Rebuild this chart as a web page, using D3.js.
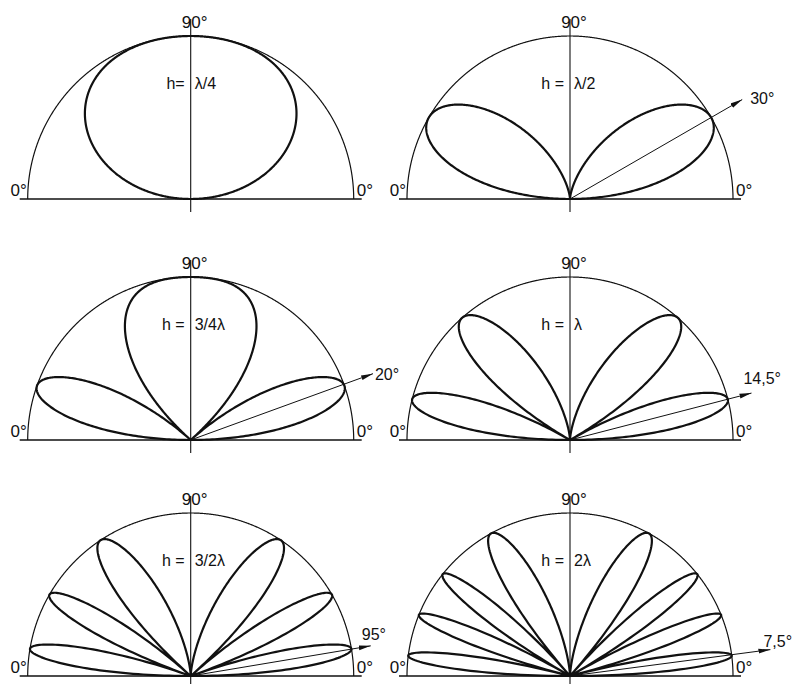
<!DOCTYPE html>
<html>
<head>
<meta charset="utf-8">
<script src="https://cdn.jsdelivr.net/npm/d3@7"></script>
<style>
  html, body { margin: 0; padding: 0; background: #fff; }
  svg { display: block; }
  text { font-family: "Liberation Sans", Arial, sans-serif; fill: #111; }
</style>
</head>
<body>
<svg id="chart" width="796" height="684"></svg>
<script>
// ---- data ----
const heights = [0.25, 0.5, 0.75, 1, 1.5, 2];            // antenna height in wavelengths
const heightPrefix = ["h=", "h =", "h =", "h =", "h =", "h ="];
const heightLabels = ["λ/4", "λ/2", "3/4λ", "λ", "3/2λ", "2λ"];
const peakAngles = [null, 30, 20, 14.5, 9.5, 7.5];        // marked main-lobe elevation (deg)
const peakLabels = [null, "30°", "20°", "14,5°", "95°", "7,5°"];
const axisTickLabels = ["0°", "90°", "0°"];

// ---- layout (not data) ----
const colX = [190.7, 570];
const rowY = [199, 440, 676];
const R = 163;
const arrowLen = [0, 1.22, 1.19, 1.15, 1.12, 1.24];
const labelOff = [null, [8, 4], [2, 6], [-8, -9], [-9, -6], [-7, -3]];

const svg = d3.select("#chart");
const defs = svg.append("defs");
defs.append("marker")
  .attr("id", "arrow").attr("viewBox", "0 0 12 6")
  .attr("refX", 12).attr("refY", 3)
  .attr("markerWidth", 12).attr("markerHeight", 6)
  .attr("markerUnits", "userSpaceOnUse").attr("orient", "auto")
  .append("path").attr("d", "M0,0.6 L12,3 L0,5.4 Z").attr("fill", "#111");

const sampleDeg = d3.range(0, 180.0001, 0.2);
const rad = d => d * Math.PI / 180;

heights.forEach((h, i) => {
  const cx = colX[i % 2], cy = rowY[Math.floor(i / 2)];
  const x = d3.scaleLinear().domain([-1, 1]).range([cx - R, cx + R]);
  const y = d3.scaleLinear().domain([0, 1]).range([cy, cy - R]);
  const g = svg.append("g");

  const polar = d3.line()
    .x(p => x(p.r * Math.cos(rad(p.a))))
    .y(p => y(p.r * Math.sin(rad(p.a))));

  // baseline
  g.append("line")
    .attr("x1", x(-1) - 8).attr("x2", x(1) + 8)
    .attr("y1", y(0)).attr("y2", y(0))
    .attr("stroke", "#111").attr("stroke-width", 1.3);
  // vertical axis
  g.append("line")
    .attr("x1", x(0)).attr("x2", x(0))
    .attr("y1", y(1) - 17).attr("y2", y(0) + 13)
    .attr("stroke", "#111").attr("stroke-width", 1.1);
  // unit semicircle
  g.append("path")
    .attr("d", polar(sampleDeg.map(a => ({ a, r: 1 }))))
    .attr("fill", "none").attr("stroke", "#111").attr("stroke-width", 1.2);

  // radiation pattern of horizontal dipole at height h above ground
  const pattern = sampleDeg.map(a => ({ a, r: Math.abs(Math.sin(2 * Math.PI * h * Math.sin(rad(a)))) }));
  g.append("path")
    .attr("d", polar(pattern))
    .attr("fill", "none").attr("stroke", "#111").attr("stroke-width", 2.2)
    .attr("stroke-linejoin", "round");

  // axis labels
  g.append("text").attr("x", x(-1) - 1).attr("y", y(0) - 3)
    .attr("text-anchor", "end").attr("font-size", 17).text(axisTickLabels[0]);
  g.append("text").attr("x", x(1) + 3).attr("y", y(0) - 3)
    .attr("text-anchor", "start").attr("font-size", 17).text(axisTickLabels[2]);
  g.append("text").attr("x", x(0) + 4).attr("y", y(1) - 8)
    .attr("text-anchor", "middle").attr("font-size", 17).text(axisTickLabels[1]);

  // height label
  g.append("text").attr("x", x(0) - 6).attr("y", y(0) - 110)
    .attr("text-anchor", "end").attr("font-size", 16).text(heightPrefix[i]);
  g.append("text").attr("x", x(0) + 4).attr("y", y(0) - 110)
    .attr("text-anchor", "start").attr("font-size", 16).text(heightLabels[i]);

  // marked lobe direction
  if (peakAngles[i] !== null) {
    const L = arrowLen[i];
    const tx = x(L * Math.cos(rad(peakAngles[i])));
    const ty = y(L * Math.sin(rad(peakAngles[i])));
    g.append("line")
      .attr("x1", x(0)).attr("y1", y(0)).attr("x2", tx).attr("y2", ty)
      .attr("stroke", "#111").attr("stroke-width", 1)
      .attr("marker-end", "url(#arrow)");
    g.append("text")
      .attr("x", tx + labelOff[i][0]).attr("y", ty + labelOff[i][1])
      .attr("font-size", 16).text(peakLabels[i]);
  }
});
</script>
</body>
</html>
